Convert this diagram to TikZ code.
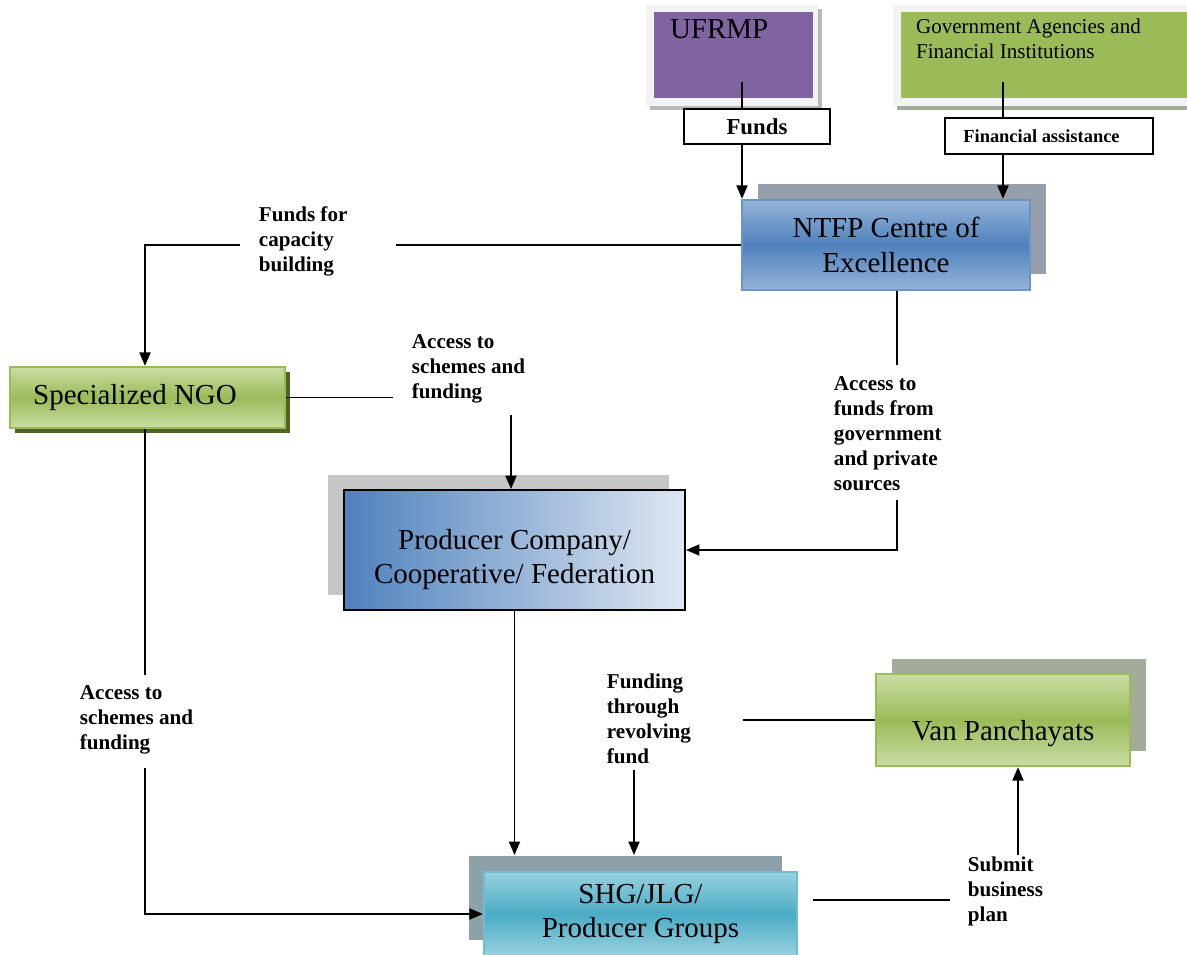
\documentclass[tikz,border=0pt]{standalone}
\usepackage{fontspec}
\setmainfont{Liberation Serif}
\usetikzlibrary{positioning,arrows.meta}

\definecolor{ufrmppurple}{RGB}{128,100,162}
\definecolor{govgreen}{RGB}{155,187,89}
\definecolor{lightgreen}{RGB}{202,221,164}
\definecolor{darkgreen}{RGB}{79,98,40}
\definecolor{ntfpblue}{RGB}{79,129,189}
\definecolor{ntfplight}{RGB}{149,180,216}
\definecolor{prodlight}{RGB}{222,231,242}
\definecolor{shgteal}{RGB}{75,172,198}
\definecolor{shglight}{RGB}{152,209,223}
\definecolor{framegray}{RGB}{243,243,243}
\definecolor{bluegrayshadow}{RGB}{150,160,172}
\definecolor{tealgrayshadow}{RGB}{140,162,168}
\definecolor{greengrayshadow}{RGB}{163,172,152}

\tikzset{
  boxfont/.style={font=\fontsize{16.5}{19.5}\selectfont},
  tagfont/.style={font=\fontsize{12}{14.2}\selectfont\bfseries},
  tagtext/.style={tagfont,align=left,inner sep=0pt,anchor=north west},
  tagbox/.style={rectangle,draw,fill=white,line width=1.1pt},
  shadowbox/.style={rectangle,draw=none,inner sep=0pt},
  greenbox/.style={rectangle,draw=govgreen,line width=1.3pt,boxfont,align=center,
    top color=lightgreen,bottom color=lightgreen,middle color=govgreen},
}

\begin{document}
\begin{tikzpicture}[x=0.02cm,y=-0.02cm,line width=1.1pt,>={Triangle[length=0.27cm,width=0.22cm]}]
  \useasboundingbox (0,0) rectangle (1187,954);
  % UFRMP
  \fill[gray!55] (650,9) rectangle (822,110);
  \fill[framegray] (646,5) rectangle (818,106);
  \node[rectangle,fill=ufrmppurple,inner xsep=0.32cm,inner ysep=0.16cm,boxfont] (ufrmp) at (733.5,55)
    {\parbox[t][1.4cm][t]{2.54cm}{UFRMP}};
  % Government agencies
  \fill[greengrayshadow] (897,9) rectangle (1195,110);
  \fill[framegray] (893,5) rectangle (1195,106);
  \node[rectangle,fill=govgreen,inner xsep=0.3cm,inner ysep=0.14cm,font=\fontsize{12}{14.2}\selectfont] (gov) at (1048,55)
    {\parbox[t][1.44cm][t]{5.28cm}{Government Agencies and\\Financial Institutions}};
  % NTFP Centre
  \node[shadowbox,fill=bluegrayshadow,minimum width=5.76cm,minimum height=1.8cm] (ntfpsh) at (902,229) {};
  \node[rectangle,draw=ntfpblue!85!white,line width=1.3pt,boxfont,align=center,
    minimum width=5.76cm,minimum height=1.8cm,
    top color=ntfplight,bottom color=ntfplight,middle color=ntfpblue] (ntfp) at (886,245) {NTFP Centre of\\Excellence};
  % Specialized NGO
  \node[shadowbox,fill=darkgreen,minimum width=5.5cm,minimum height=1.22cm] (ngosh) at (152.5,402.5) {};
  \node[greenbox,minimum width=5.5cm,minimum height=1.22cm] (ngo) at (147.5,397.5) {\hspace*{-0.5cm}Specialized NGO};
  % Producer Company
  \node[shadowbox,fill=gray!45,minimum width=6.82cm,minimum height=2.4cm] (prodsh) at (498.5,535) {};
  \node[rectangle,draw,line width=1.1pt,boxfont,minimum width=6.82cm,minimum height=2.4cm,
    left color=ntfpblue,right color=prodlight] (prod) at (514.5,550)
    {\begin{tabular}{@{}c@{}}\rule{0pt}{0.88cm}Producer Company/\\Cooperative/ Federation\end{tabular}};
  % SHG
  \node[shadowbox,fill=tealgrayshadow,minimum width=6.26cm,minimum height=1.68cm] (shgsh) at (625.5,898) {};
  \node[rectangle,draw=shgteal!80!white,line width=1.3pt,boxfont,align=center,
    minimum width=6.26cm,minimum height=1.68cm,
    top color=shglight,bottom color=shglight,middle color=shgteal] (shg) at (640.5,914) {SHG/JLG/\\Producer Groups};
  % Van Panchayats
  \node[shadowbox,fill=greengrayshadow,minimum width=5.08cm,minimum height=1.84cm] (vansh) at (1019,705) {};
  \node[greenbox,minimum width=5.08cm,minimum height=1.84cm] (van) at (1003,720) {\rule{0pt}{0.94cm}Van Panchayats};

  % labels
  \node[tagbox,font=\fontsize{13}{15}\selectfont\bfseries,minimum width=2.92cm,minimum height=0.7cm] (funds) at (757,126.5) {Funds};
  \node[tagbox,font=\fontsize{10.5}{12}\selectfont\bfseries,minimum width=4.16cm,minimum height=0.72cm] (finass) at (1049,136) {\hspace*{-0.3cm}Financial assistance};
  \node[tagtext] (capbuild) at (258,206) {Funds for\\capacity\\building};
  \node[tagtext] (ngoaccess) at (411,334) {Access to\\schemes and\\funding};
  \node[tagtext] (govaccess) at (833,376) {Access to\\funds from\\government\\and private\\sources};
  \node[tagtext] (shgaccess) at (79,685) {Access to\\schemes and\\funding};
  \node[tagtext] (revolving) at (606,673) {Funding\\through\\revolving\\fund};
  \node[tagtext] (bizplan) at (967,856) {Submit\\business\\plan};

  % loose ends
  \coordinate (ufrmptap) at (742,82);
  \coordinate (govtap) at (1003,82);
  \coordinate (capbuildE) at (396,242);
  \coordinate (capbuildW) at (240,242);
  \coordinate (ngoaccessW) at (393,397.5);
  \coordinate (ngoaccessS) at (511,415);
  \coordinate (govaccessN) at (897,365);
  \coordinate (govaccessS) at (897,500);
  \coordinate (shgaccessN) at (145,675);
  \coordinate (shgaccessS) at (145,768);
  \coordinate (revolvingE) at (743,720);
  \coordinate (revolvingS) at (634,770);
  \coordinate (bizplanW) at (813,900);
  \coordinate (bizplanE) at (950,900);
  \coordinate (bizplanN) at (1018,855);

  % funding flows
  \draw (ufrmptap) -- (ufrmptap |- funds.north);
  \draw[->] (funds.south -| ufrmptap) -- (ufrmptap |- ntfp.north);
  \draw (govtap) -- (govtap |- finass.north);
  \draw[->] (finass.south -| govtap) -- (govtap |- ntfp.north);
  \draw (ntfp.west) -- (ntfp.west -| capbuildE);
  \draw[->] (ntfp.west -| capbuildW) -| (shgaccessN |- ngo.north);
  \draw (ngo.east) -- (ngoaccessW);
  \draw[->] (ngoaccessS) -- (ngoaccessS |- prod.north);
  \draw (govaccessN |- ntfp.south) -- (govaccessN);
  \draw[->] (govaccessS) |- (prod.east);
  \draw[->] (prod.south) -- (prod.south |- shgsh.north);
  \draw (shgaccessN |- ngo.south) -- (shgaccessN);
  \draw[->] (shgaccessS) |- (shg.west);
  \draw (van.west) -- (revolvingE);
  \draw[->] (revolvingS) -- (revolvingS |- shgsh.north);
  \draw (bizplanW) -- (bizplanE);
  \draw[->] (bizplanN) -- (bizplanN |- van.south);
\end{tikzpicture}
\end{document}
